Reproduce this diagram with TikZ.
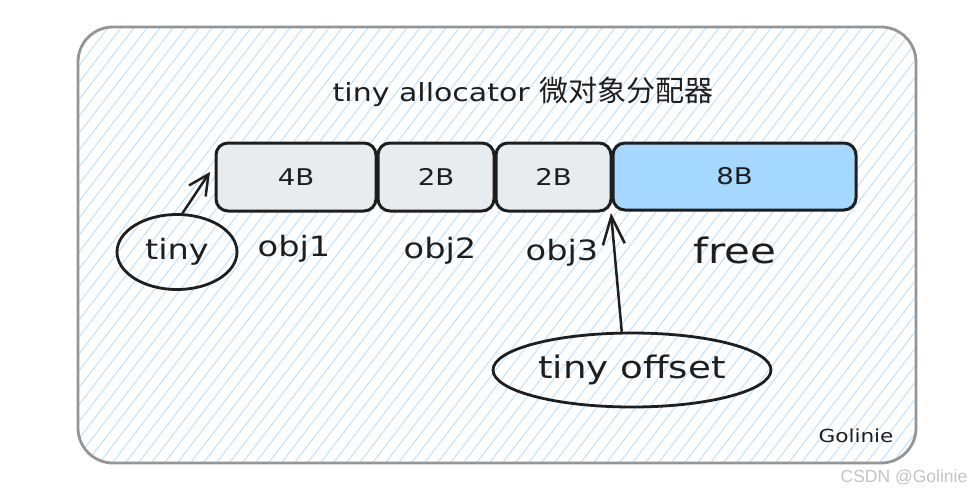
\documentclass[tikz,border=0pt]{standalone}
\usepackage{fontspec}
\setmainfont[FakeStretch=1.2]{DejaVu Sans}
\newfontfamily\cjk{Noto Sans CJK SC}
\newfontfamily\wmfont{Liberation Sans}
\usetikzlibrary{shapes.geometric,arrows.meta,calc}
\definecolor{ink}{HTML}{1E1E1E}
\definecolor{boxgray}{HTML}{E9ECEF}
\definecolor{boxblue}{HTML}{A5D8FF}
\definecolor{hatchblue}{HTML}{C6E3FB}
\definecolor{framegray}{HTML}{959595}
\definecolor{wmgray}{HTML}{C4C4C4}
\tikzset{
  membox/.style={draw=ink, line width=3pt, rounded corners=12pt, inner sep=0pt, outer sep=0pt,
    font=\fontsize{23}{26}\selectfont, text=ink},
  lbl/.style={text=ink, inner sep=0pt},
  bubble/.style={ellipse, draw=ink, line width=2.8pt, inner sep=0pt, text=ink},
  arr/.style={draw=ink, line width=2.5pt, -{Straight Barb[length=20pt,width=20pt,line width=2.5pt]}},
  hatch/.style={draw=hatchblue, line width=1.1pt},
}
\begin{document}
\begin{tikzpicture}[x=1pt,y=-1pt]
\path[use as bounding box, fill=white] (0,0) rectangle (972,496);
% frame with hatching
\begin{scope}
  \clip[rounded corners=35pt] (78,27) rectangle (916,463);
  \foreach \x in {-270,-257,...,930} {
    \draw[hatch] (\x,470) -- ++(345,-450);
  }
\end{scope}
\draw[framegray, line width=2.8pt, rounded corners=35pt] (78,27) rectangle (916,463);
% title
\node[lbl] (title) at (523,92) {{\fontsize{25}{28}\selectfont tiny allocator }{\cjk\fontsize{29}{32}\selectfont 微对象分配器}};
% memory blocks
\node[membox, fill=boxgray, minimum width=160pt, minimum height=68pt] (b1) at (296,177) {4B};
\node[membox, fill=boxgray, minimum width=116pt, minimum height=68pt] (b2) at (436,177) {2B};
\node[membox, fill=boxgray, minimum width=115pt, minimum height=68pt] (b3) at (553.5,177) {2B};
\node[membox, fill=boxblue, minimum width=243pt, minimum height=67pt] (b4) at (734.5,176.5) {8B};
% labels
\node[lbl, font=\fontsize{28}{30}\selectfont] (o1) at (294,249) {obj1};
\node[lbl, font=\fontsize{28}{30}\selectfont] (o2) at (440,251) {obj2};
\node[lbl, font=\fontsize{28}{30}\selectfont] (o3) at (562,253) {obj3};
\node[lbl, font=\fontsize{35}{38}\selectfont] (fr) at (735,250) {free};
% pointers
\node[bubble, minimum width=120pt, minimum height=75pt, font=\fontsize{28}{32}\selectfont] (tinyE) at (177,252) {tiny};
\node[bubble, minimum width=278pt, minimum height=74pt, font=\fontsize{31}{34}\selectfont] (offE) at (632,370) {tiny offset};
\draw[arr] (tinyE.82) -- ($(b1.west)+(-6,-5)$);
\draw[arr, -{Straight Barb[length=28pt,width=22pt,line width=2.5pt]}] (offE.105) -- ($(b3.south east)+(0,2)$);
% signature and watermark
\node[lbl, font=\fontsize{18}{20}\selectfont] (sig) at (856,436) {Golinie};
\node[text=wmgray, inner sep=0pt, font=\wmfont\fontsize{17.5}{20}\selectfont] (wm) at (904,477) {CSDN @Golinie};
\end{tikzpicture}
\end{document}
